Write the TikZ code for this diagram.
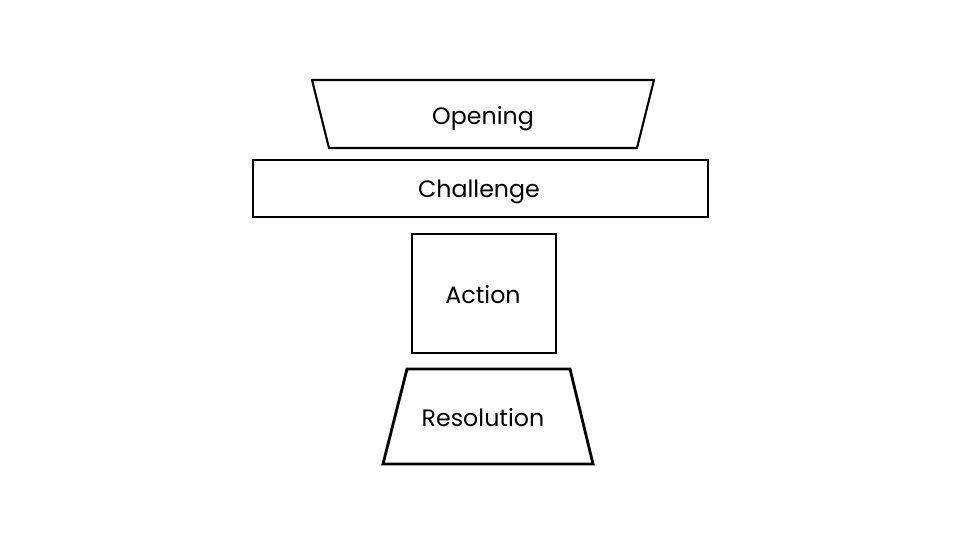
\documentclass[tikz,border=0pt]{standalone}
\usepackage{fontspec}
\setmainfont{Poppins}
\usetikzlibrary{positioning}
\tikzset{%
  stage/.style={draw=black, line width=1.6pt, line join=miter},
  thin stage/.style={stage, line width=1.2pt},
  stage text/.style={anchor=base, inner sep=0pt, font=\fontsize{13.5}{16}\selectfont}
}
\begin{document}
\begin{tikzpicture}[x=0.02cm, y=-0.02cm]

          \useasboundingbox (0, 0) rectangle (960, 540);

          % opening, wider at the top
          \draw[thin stage] (312, 80) -- (654, 80) -- (637, 148) -- (329, 148) -- cycle;
          \node[stage text] (opening) at (483, 125) {Opening};

          \draw[stage] (253, 160) rectangle (708, 217);
          \node[stage text] (challenge) at (479, 198) {Challenge};

          \draw[stage] (412, 234) rectangle (556, 353);
          \node[stage text] (action) at (483, 304) {Action};

          % resolution, wider at the bottom
          \draw[stage] (407, 369) -- (570, 369) -- (593, 464) -- (383, 464) -- cycle;
          \node[stage text] (resolution) at (483, 426) {Resolution};
        \end{tikzpicture}
\end{document}
